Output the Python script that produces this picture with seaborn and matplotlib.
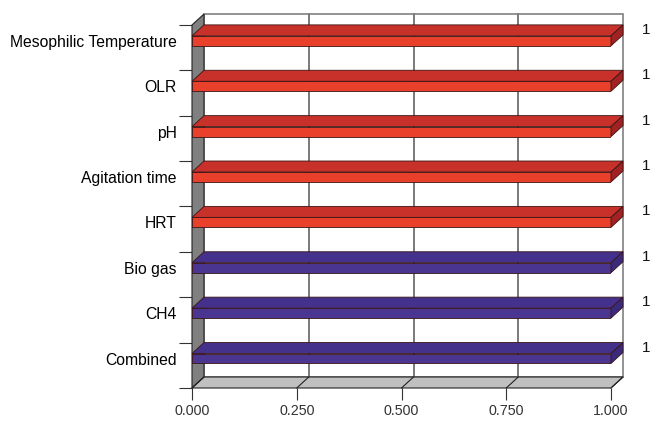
import matplotlib
matplotlib.use("Agg")
import matplotlib.pyplot as plt
import seaborn as sns
import pandas as pd
import numpy as np
from matplotlib.patches import Polygon, Rectangle
from matplotlib.transforms import IdentityTransform, ScaledTranslation

# ---- data ----
factors = ["Mesophilic Temperature", "OLR", "pH", "Agitation time", "HRT",
           "Bio gas", "CH4", "Combined"]
values = [1, 1, 1, 1, 1, 1, 1, 1]
groups = ["Process"] * 5 + ["Output"] * 3
x_ticks = [0.0, 0.25, 0.5, 0.75, 1.0]
x_tick_labels = ["0.000", "0.250", "0.500", "0.750", "1.000"]
value_labels = ["1"] * 8

front_colors = {"Process": "#E8402B", "Output": "#4A3590"}
top_colors = {"Process": "#C8302A", "Output": "#44318B"}
side_colors = {"Process": "#A02222", "Output": "#3A2A7C"}

sns.set_style("white")
plt.rcParams["font.family"] = ["Liberation Sans", "DejaVu Sans"]

DPI = 100
fig = plt.figure(figsize=(6.54, 4.22), dpi=DPI)
ax = fig.add_axes([192 / 654, (422 - 388) / 422, 419 / 654, 363 / 422])
ax.set_facecolor("none")

df = pd.DataFrame({"factor": factors, "value": values, "group": groups})
sns.barplot(data=df, x="value", y="factor", hue="group", palette=front_colors,
            orient="h", width=0.22, dodge=False, legend=False, ax=ax,
            edgecolor="#3a1515", linewidth=0.6, zorder=5, saturation=1)

YTOP, YBOT = -0.35, len(factors) - 0.35
ax.set_xlim(0, 1)
ax.set_ylim(YBOT, YTOP)
for s in ax.spines.values():
    s.set_visible(False)

DX, DY = 12, 11  # depth offset in pixels
d = np.array([DX, DY])
depth = ScaledTranslation(DX / DPI, DY / DPI, fig.dpi_scale_trans)
back = ax.transData + depth
ident = IdentityTransform()

# back wall
ax.add_patch(Rectangle((0, YTOP), 1, YBOT - YTOP, transform=back,
                       facecolor="white", edgecolor="#808080", lw=1.2,
                       zorder=0.5, clip_on=False))
for xt in x_ticks[1:-1]:
    ax.plot([xt, xt], [YTOP, YBOT], transform=back, color="#7a7a7a",
            lw=1.4, zorder=0.6, clip_on=False)

# left wall
pt = ax.transData.transform((0, YTOP))
pb = ax.transData.transform((0, YBOT))
ax.add_patch(Polygon([pt, pt + d, pb + d, pb], closed=True, transform=ident,
                     facecolor="#808080", edgecolor="#222222", lw=0.8,
                     zorder=1, clip_on=False))
# floor
pl = ax.transData.transform((0, YBOT))
pr = ax.transData.transform((1, YBOT))
ax.add_patch(Polygon([pl, pr, pr + d, pl + d], closed=True, transform=ident,
                     facecolor="#C0C0C0", edgecolor="#222222", lw=0.8,
                     zorder=1, clip_on=False))
for xt in x_ticks:
    p = ax.transData.transform((xt, YBOT))
    ax.plot([p[0], p[0] + DX], [p[1], p[1] + DY], transform=ident,
            color="#222222", lw=0.8, zorder=1.1, clip_on=False)

# 3D faces of bars
for patch in list(ax.patches):
    if not isinstance(patch, Rectangle) or patch.get_zorder() != 5:
        continue
    x0, y0 = patch.get_x(), patch.get_y()
    w, h = patch.get_width(), patch.get_height()
    idx = int(round(y0 + h / 2))
    g = groups[idx]
    a = ax.transData.transform((x0, y0))
    b = ax.transData.transform((x0 + w, y0 + h))
    left, right = min(a[0], b[0]), max(a[0], b[0])
    top, bot = max(a[1], b[1]), min(a[1], b[1])
    ax.add_patch(Polygon([(left, top), (right, top), (right + DX, top + DY),
                          (left + DX, top + DY)], closed=True, transform=ident,
                         facecolor=top_colors[g], edgecolor="#3a1515", lw=0.6,
                         zorder=5, clip_on=False))
    ax.add_patch(Polygon([(right, bot), (right, top), (right + DX, top + DY),
                          (right + DX, bot + DY)], closed=True, transform=ident,
                         facecolor=side_colors[g], edgecolor="#3a1515", lw=0.6,
                         zorder=5, clip_on=False))

# value labels
for i, (v, lab) in enumerate(zip(values, value_labels)):
    ax.annotate(lab, xy=(v, i), xytext=(DX + 23, DY), textcoords="offset pixels",
                ha="center", va="center", fontsize=11, color="#111111",
                annotation_clip=False)

# ticks
ax.set_yticks(range(len(factors)), factors)
ax.set_yticks(np.arange(YTOP, YBOT + 0.01, 1.0), minor=True)
ax.tick_params(axis="y", which="major", left=False, length=0, pad=11,
               labelsize=11.3, labelcolor="#000000")
ax.tick_params(axis="y", which="minor", left=True, length=9.5, width=0.8,
               color="#333333")
ax.set_xticks(x_ticks, x_tick_labels)
ax.tick_params(axis="x", which="major", bottom=True, length=8.6, width=0.8,
               direction="out", pad=3, labelsize=10.3, labelcolor="#333333",
               color="#333333")
ax.set_xlabel("")
ax.set_ylabel("")

fig.savefig("out.png", dpi=DPI)
